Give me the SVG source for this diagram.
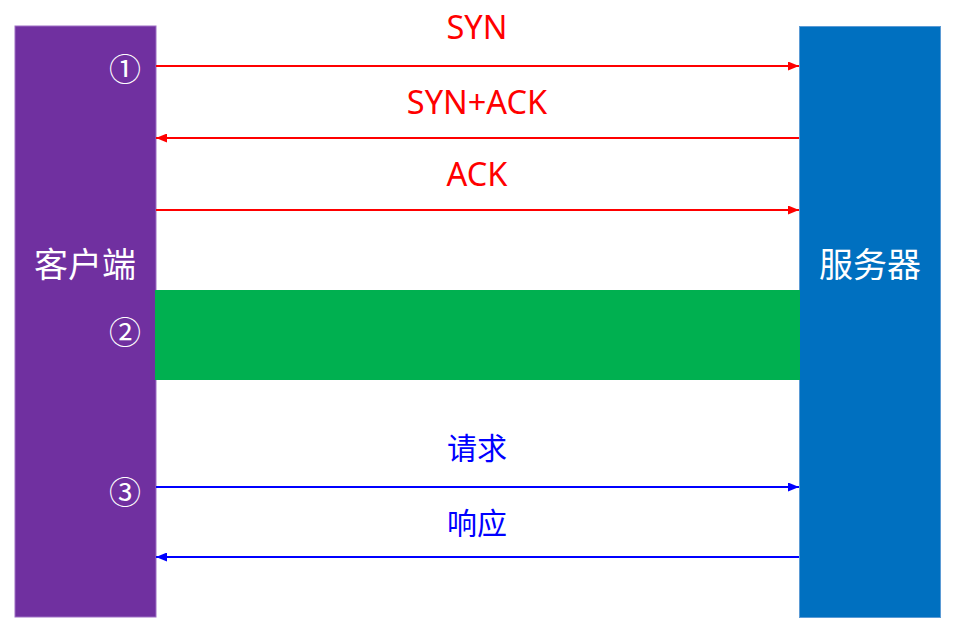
<svg xmlns="http://www.w3.org/2000/svg" width="959" height="636" viewBox="0 0 959 636">
<style>
.lbl{font-family:"Noto Sans","Noto Sans CJK SC",sans-serif;font-size:32.5px;text-anchor:middle}
.cjk{font-family:"Noto Sans CJK SC",sans-serif;font-size:30px;text-anchor:middle}
.red{fill:#ff0000}
.blue{fill:#0000ff}
.num{font-family:"Noto Sans CJK SC","DejaVu Sans",sans-serif;font-size:32px;fill:#ffffff;text-anchor:middle}
.side{font-family:"Noto Sans CJK SC",sans-serif;font-size:34px;fill:#ffffff;text-anchor:middle}
.r{stroke:#ff0000;stroke-width:2.2;fill:none}
.b{stroke:#0000ff;stroke-width:2.2;fill:none}
</style>
<defs>
<marker id="ar" markerWidth="11" markerHeight="9" refX="11" refY="4.5" orient="auto" markerUnits="userSpaceOnUse"><path d="M0,0 L11,4.5 L0,9 Z" fill="#ff0000"/></marker>
<marker id="ab" markerWidth="11" markerHeight="9" refX="11" refY="4.5" orient="auto" markerUnits="userSpaceOnUse"><path d="M0,0 L11,4.5 L0,9 Z" fill="#0000ff"/></marker>
</defs>
<rect width="959" height="636" fill="#ffffff"/>
<g id="client">
<rect x="15" y="26" width="141" height="591" fill="#7030a0" stroke="#9d6fc4" stroke-width="1"/>
<text class="side" x="85" y="277">客户端</text>
<text class="num" x="125" y="81">①</text>
<text class="num" x="125" y="344">②</text>
<text class="num" x="125" y="504">③</text>
</g>
<g id="server">
<rect x="799.5" y="26.5" width="141" height="591" fill="#0070c0" stroke="#5b9bd5" stroke-width="1"/>
<text class="side" x="870" y="277">服务器</text>
</g>
<g id="green">
<rect x="155" y="290" width="645" height="90" fill="#00b050"/>
</g>
<g id="connectors">
<line class="r" x1="156" y1="66" x2="799" y2="66" marker-end="url(#ar)"/>
<line class="r" x1="799" y1="138" x2="156" y2="138" marker-end="url(#ar)"/>
<line class="r" x1="156" y1="210" x2="799" y2="210" marker-end="url(#ar)"/>
<line class="b" x1="156" y1="487" x2="799" y2="487" marker-end="url(#ab)"/>
<line class="b" x1="799" y1="557" x2="156" y2="557" marker-end="url(#ab)"/>
</g>
<g id="labels">
<text class="lbl red" x="477" y="39">SYN</text>
<text class="lbl red" x="477" y="114">SYN+ACK</text>
<text class="lbl red" x="477" y="186">ACK</text>
<text class="cjk blue" x="477" y="459">请求</text>
<text class="cjk blue" x="477" y="534">响应</text>
</g>
</svg>
